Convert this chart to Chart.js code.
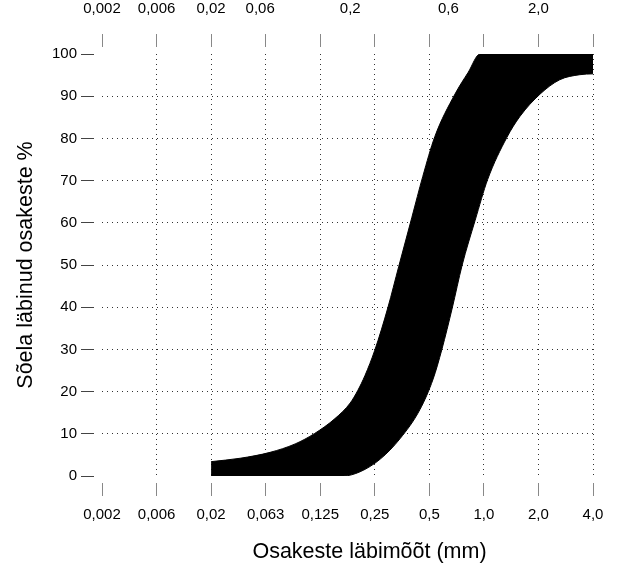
<!DOCTYPE html>
<html>
<head>
<meta charset="utf-8">
<script src="https://cdn.jsdelivr.net/npm/chart.js@4/dist/chart.umd.min.js"></script>
<style>
  html, body { margin: 0; padding: 0; background: #fff; }
  canvas { display: block; }
</style>
</head>
<body>
<canvas id="grading" width="619" height="566"></canvas>
<script>
// Sieve sizes (mm), one evenly spaced position per size on the bottom axis
const sieveLabels = ['0,002', '0,006', '0,02', '0,063', '0,125', '0,25', '0,5', '1,0', '2,0', '4,0'];
const sievePositions = [0, 1, 2, 3, 4, 5, 6, 7, 8, 9];

// Fraction boundaries shown along the top axis
const fractionPositions = [0, 1, 2, 2.9, 4.55, 6.35, 8];
const fractionLabels = ['0,002', '0,006', '0,02', '0,06', '0,2', '0,6', '2,0'];

// Passing percentages
const percentTicks = [0, 10, 20, 30, 40, 50, 60, 70, 80, 90, 100];

// Fine limit of the grading envelope (left boundary)
const fineLimitPos = [2, 2.53, 3.08, 3.54, 3.90, 4.27, 4.55, 4.69, 4.82, 5.00, 5.24, 5.44, 5.68, 5.88, 6.10, 6.47, 6.71, 6.93, 9];
const fineLimitPct = [3.4, 4.2, 5.6, 7.6, 10.1, 13.6, 17.3, 20.3, 23.8, 29.8, 39.9, 49.7, 61.3, 71.0, 80.4, 90.5, 95.6, 100, 100];

// Coarse limit of the grading envelope (right boundary)
const coarseLimitPos = [2, 4.42, 4.73, 5.10, 5.46, 5.83, 6.07, 6.23, 6.42, 6.60, 6.84, 7.07, 7.42, 7.66, 8.03, 8.39, 8.76, 9];
const coarseLimitPct = [0, 0, 1.0, 4.0, 8.8, 15.8, 23.0, 30.0, 39.8, 49.9, 60.6, 70.3, 80.2, 85.2, 90.5, 93.9, 95.1, 95.3];

const toPoints = (xs, ys) => xs.map((x, i) => ({ x: x, y: ys[i] }));

const FONT_FAMILY = "'Liberation Sans', Arial, Helvetica, sans-serif";
const tickFont = { family: FONT_FAMILY, size: 15 };
const titleFont = { family: FONT_FAMILY, size: 21.5 };
const DOTS = [1, 4];

// Horizontal axis title, drawn a little right of the plot centre
const xTitlePlugin = {
  id: 'xTitle',
  afterDraw(chart, args, opts) {
    const { ctx, chartArea } = chart;
    const xScale = chart.scales.x;
    ctx.save();
    ctx.font = opts.font.size + 'px ' + opts.font.family;
    ctx.fillStyle = opts.color;
    ctx.textAlign = 'center';
    ctx.textBaseline = 'middle';
    ctx.fillText(opts.text, (chartArea.left + chartArea.right) / 2 + opts.shift, xScale.bottom - opts.fromBottom);
    ctx.restore();
  }
};

new Chart(document.getElementById('grading'), {
  type: 'line',
  data: {
    datasets: [
      {
        label: 'fine',
        data: toPoints(fineLimitPos, fineLimitPct),
        borderColor: '#000',
        borderWidth: 1,
        backgroundColor: '#000',
        pointRadius: 0,
        cubicInterpolationMode: 'monotone',
        fill: '+1'
      },
      {
        label: 'coarse',
        data: toPoints(coarseLimitPos, coarseLimitPct),
        borderColor: '#000',
        borderWidth: 1,
        backgroundColor: '#000',
        pointRadius: 0,
        cubicInterpolationMode: 'monotone',
        fill: false
      }
    ]
  },
  options: {
    responsive: false,
    animation: false,
    devicePixelRatio: 1,
    layout: { padding: { left: 0, right: 26, top: 0, bottom: 0 } },
    plugins: {
      legend: { display: false },
      tooltip: { enabled: false },
      xTitle: { text: 'Osakeste läbimõõt (mm)', font: titleFont, color: '#000', shift: 22, fromBottom: 14 }
    },
    scales: {
      x: {
        type: 'linear',
        position: 'bottom',
        min: 0,
        max: 9,
        afterFit: s => { s.height = 90; },
        afterBuildTicks: s => { s.ticks = sievePositions.map(v => ({ value: v })); },
        ticks: {
          font: tickFont,
          color: '#000',
          padding: 10,
          maxRotation: 0,
          autoSkip: false,
          callback: v => sieveLabels[sievePositions.indexOf(v)]
        },
        grid: {
          color: c => (c.tick && c.tick.value === 0) ? 'rgba(0,0,0,0)' : '#333',
          lineWidth: 1,
          borderDash: DOTS,
          tickLength: 20,
          tickColor: '#888',
          tickBorderDash: [13, 7],
          tickBorderDashOffset: 13
        },
        border: { display: false, dash: DOTS }
      },
      xTop: {
        type: 'linear',
        position: 'top',
        weight: 0,
        min: 0,
        max: 9,
        afterFit: s => { s.height = 20; },
        afterBuildTicks: s => { s.ticks = sievePositions.map(v => ({ value: v })); },
        ticks: { display: false },
        grid: {
          drawOnChartArea: false,
          tickLength: 20,
          tickColor: '#888',
          tickBorderDash: [13, 7],
          tickBorderDashOffset: 0
        },
        border: { display: false }
      },
      xTopLabels: {
        type: 'linear',
        position: 'top',
        weight: 1,
        min: 0,
        max: 9,
        afterFit: s => { s.height = 34; },
        afterBuildTicks: s => { s.ticks = fractionPositions.map(v => ({ value: v })); },
        ticks: {
          font: tickFont,
          color: '#000',
          padding: 8,
          maxRotation: 0,
          autoSkip: false,
          callback: v => fractionLabels[fractionPositions.indexOf(v)]
        },
        grid: { display: false },
        border: { display: false }
      },
      y: {
        type: 'linear',
        position: 'left',
        min: 0,
        max: 100,
        afterFit: s => { s.width = 102; },
        afterBuildTicks: s => { s.ticks = percentTicks.map(v => ({ value: v })); },
        ticks: {
          font: tickFont,
          color: '#000',
          padding: 4
        },
        grid: {
          color: c => (c.tick && (c.tick.value === 0 || c.tick.value === 100)) ? 'rgba(0,0,0,0)' : '#333',
          lineWidth: 1,
          borderDash: DOTS,
          tickLength: 21,
          tickColor: '#444',
          tickBorderDash: [13, 8],
          tickBorderDashOffset: 0
        },
        border: { display: false, dash: DOTS },
        title: {
          display: true,
          text: 'Sõela läbinud osakeste %',
          font: titleFont,
          color: '#000',
          padding: { top: 13, bottom: 0 }
        }
      }
    }
  },
  plugins: [xTitlePlugin]
});
</script>
</body>
</html>
